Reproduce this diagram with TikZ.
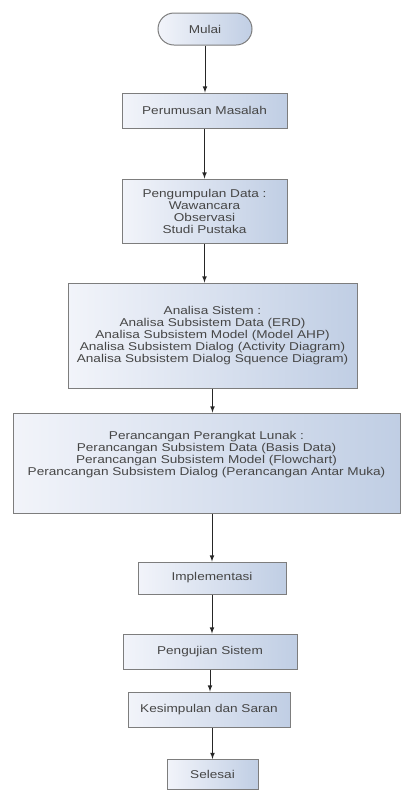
\documentclass[tikz,border=0pt]{standalone}
\usepackage{fontspec}
\usepackage{tikz}
\usetikzlibrary{shapes,arrows}
\newfontfamily\boxfont[FakeStretch=1.2]{Liberation Sans}
\definecolor{boxedge}{RGB}{125,125,125}
\definecolor{boxleft}{RGB}{242,244,250}
\definecolor{boxright}{RGB}{192,206,228}
\definecolor{boxtext}{RGB}{70,70,70}

\begin{document}
\begin{tikzpicture}[x=0.75pt,y=0.75pt,yscale=-1,xscale=1,
  proc/.style={draw=boxedge, line width=0.75pt, left color=boxleft, right color=boxright, text=boxtext, font=\boxfont\fontsize{8.5}{9}\selectfont, align=center, inner sep=0pt},
  term/.style={proc, rounded rectangle},
  flow/.style={draw=black!85, line width=0.6pt, -latex}]

\useasboundingbox (0,0) rectangle (404,790);

%Terminator: Mulai
\draw (205,29) node [term, minimum width=70.5pt, minimum height=24pt] (mulai) {Mulai};
%Process: Perumusan Masalah
\draw (204.5,110.5) node [proc, minimum width=123.75pt, minimum height=26.25pt] (rumus) {Perumusan Masalah};
%Process: Pengumpulan Data
\draw (204.5,211) node [proc, minimum width=123.75pt, minimum height=48pt] (kumpul) {Pengumpulan Data :\\Wawancara\\Observasi\\Studi Pustaka};
%Process: Analisa Sistem
\draw (212.5,335.5) node [proc, minimum width=216.75pt, minimum height=78.75pt] (analisa) {Analisa Sistem :\\Analisa Subsistem Data (ERD)\\Analisa Subsistem Model (Model AHP)\\Analisa Subsistem Dialog (Activity Diagram)\\Analisa Subsistem Dialog Squence Diagram)};
%Process: Perancangan Perangkat Lunak
\draw (206.5,463) node [proc, minimum width=290.25pt, minimum height=75pt] (rancang) {Perancangan Perangkat Lunak :\\Perancangan Subsistem Data (Basis Data)\\Perancangan Subsistem Model (Flowchart)\\Perancangan Subsistem Dialog (Perancangan Antar Muka)\\[6pt]\mbox{}};
%Process: Implementasi
\draw (212,578) node [proc, minimum width=111pt, minimum height=24pt] (impl) {Implementasi};
%Process: Pengujian Sistem
\draw (210,651.5) node [proc, minimum width=130.5pt, minimum height=26.25pt] (uji) {Pengujian Sistem};
%Process: Kesimpulan dan Saran
\draw (209,709.5) node [proc, minimum width=121.5pt, minimum height=26.25pt] (simpul) {Kesimpulan dan Saran};
%Process: Selesai
\draw (212.5,774.5) node [proc, minimum width=68.25pt, minimum height=22.5pt] (selesai) {Selesai};

%Straight Lines
\draw [flow] (mulai.south) -- (mulai.south |- rumus.north);
\draw [flow] (rumus.south) -- (rumus.south |- kumpul.north);
\draw [flow] (kumpul.south) -- (kumpul.south |- analisa.north);
\draw [flow] (analisa.south) -- (analisa.south |- rancang.north);
\draw [flow] (impl.north |- rancang.south) -- (impl.north);
\draw [flow] (impl.south) -- (impl.south |- uji.north);
\draw [flow] (uji.south) -- (uji.south |- simpul.north);
\draw [flow] (selesai.north |- simpul.south) -- (selesai.north);

\end{tikzpicture}
\end{document}
